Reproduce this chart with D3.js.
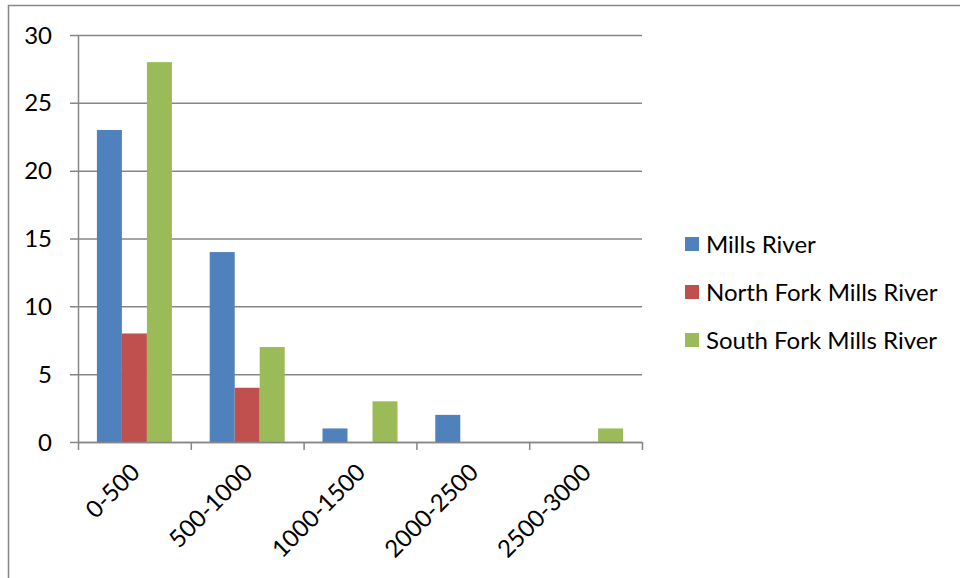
<!DOCTYPE html>
<html>
<head>
<meta charset="utf-8">
<script src="https://cdn.jsdelivr.net/npm/d3@7"></script>
<style>
  body { margin: 0; background: #fff; }
  text { font-family: Lato, "Open Sans", sans-serif; fill: #000; }
</style>
</head>
<body>
<svg id="chart" width="960" height="578"></svg>
<script>
// data
var categories = ["0-500", "500-1000", "1000-1500", "2000-2500", "2500-3000"];
var seriesNames = ["Mills River", "North Fork Mills River", "South Fork Mills River"];
var millsRiver = [23, 14, 1, 2, 0];
var northFork = [8, 4, 0, 0, 0];
var southFork = [28, 7, 3, 0, 1];
var yTicks = [0, 5, 10, 15, 20, 25, 30];
var colors = ["#4F81BD", "#C0504D", "#9BBB59"];

var seriesValues = [millsRiver, northFork, southFork];

var svg = d3.select("#chart");

// outer chart border
svg.append("rect")
    .attr("x", 8.5).attr("y", 5.5)
    .attr("width", 1000).attr("height", 1000)
    .attr("fill", "none").attr("stroke", "#868686").attr("stroke-width", 1.5);

var plot = { left: 78, right: 642, top: 35, bottom: 442 };

var x = d3.scaleBand()
    .domain(categories)
    .range([plot.left, plot.right])
    .paddingInner(0.335)
    .paddingOuter(0.1675);

var xInner = d3.scaleBand()
    .domain(seriesNames)
    .range([0, x.bandwidth()]);

var y = d3.scaleLinear()
    .domain([0, 30])
    .range([plot.bottom, plot.top]);

// gridlines
svg.append("g")
    .selectAll("line")
    .data(yTicks)
    .join("line")
    .attr("x1", plot.left - 8).attr("x2", plot.right)
    .attr("y1", d => y(d) + 0.5).attr("y2", d => y(d) + 0.5)
    .attr("stroke", "#868686").attr("stroke-width", 1.5);

// y axis line
svg.append("line")
    .attr("x1", plot.left + 0.5).attr("x2", plot.left + 0.5)
    .attr("y1", plot.top).attr("y2", plot.bottom)
    .attr("stroke", "#868686").attr("stroke-width", 1.5);

// y tick labels
svg.append("g")
    .selectAll("text")
    .data(yTicks)
    .join("text")
    .attr("x", 52)
    .attr("y", d => y(d))
    .attr("dy", "0.36em")
    .attr("text-anchor", "end")
    .style("font-size", "24px")
    .text(d => d);

// bars
var groups = svg.append("g")
    .selectAll("g")
    .data(seriesNames)
    .join("g")
    .attr("fill", (d, i) => colors[i]);

groups.selectAll("rect")
    .data((s, si) => categories.map((c, ci) => ({ cat: c, series: s, value: seriesValues[si][ci] })))
    .join("rect")
    .filter(d => d.value > 0)
    .attr("x", d => x(d.cat) + xInner(d.series))
    .attr("width", xInner.bandwidth())
    .attr("y", d => y(d.value))
    .attr("height", d => y(0) - y(d.value));

// x axis line and tick marks at category boundaries
svg.append("line")
    .attr("x1", plot.left).attr("x2", plot.right)
    .attr("y1", plot.bottom + 0.5).attr("y2", plot.bottom + 0.5)
    .attr("stroke", "#868686").attr("stroke-width", 1.5);

var boundaries = d3.range(categories.length + 1).map(i => plot.left + i * (plot.right - plot.left) / categories.length);
svg.append("g")
    .selectAll("line")
    .data(boundaries)
    .join("line")
    .attr("x1", d => d + 0.5).attr("x2", d => d + 0.5)
    .attr("y1", plot.bottom).attr("y2", plot.bottom + 8)
    .attr("stroke", "#868686").attr("stroke-width", 1.5);

// rotated category labels
svg.append("g")
    .selectAll("text")
    .data(categories)
    .join("text")
    .attr("transform", d => "translate(" + (x(d) + x.bandwidth() / 2 + 1) + "," + (plot.bottom + 26) + ") rotate(-45)")
    .attr("text-anchor", "end")
    .attr("dy", "0.35em")
    .style("font-size", "24px")
    .text(d => d);

// legend
var legend = svg.append("g")
    .selectAll("g")
    .data(seriesNames)
    .join("g")
    .attr("transform", (d, i) => "translate(685," + (244 + i * 48) + ")");

legend.append("rect")
    .attr("x", 0).attr("y", -7)
    .attr("width", 14).attr("height", 14)
    .attr("fill", (d, i) => colors[i]);

legend.append("text")
    .attr("x", 21)
    .attr("y", 0)
    .attr("dy", "0.36em")
    .style("font-size", "24px")
    .text(d => d);
</script>
</body>
</html>
